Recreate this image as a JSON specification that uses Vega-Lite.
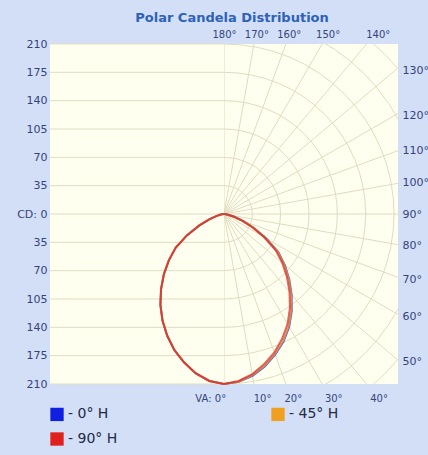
{
  "$schema": "https://vega.github.io/schema/vega-lite/v6.json",
  "width": 348,
  "height": 340,
  "autosize": "none",
  "padding": {"left": 50, "top": 44, "right": 30, "bottom": 71},
  "background": "#d3dff7",
  "title": {"text": "Polar Candela Distribution", "color": "#2e62b8", "fontSize": 13, "font": "DejaVu Sans", "fontWeight": "bold", "anchor": "middle", "offset": 4, "dx": 8},
  "config": {
    "view": {"fill": "#fffff0", "stroke": null},
    "axis": {"labelFont": "DejaVu Sans", "labelFontSize": 11, "labelColor": "#34447a", "labelFlush": false, "labelOverlap": false, "ticks": false, "domain": false, "grid": false}
  },
  "datasets": {
    "hlines": [{"cd": -210, "xa": -215, "xb": 0}, {"cd": -175, "xa": -215, "xb": 0}, {"cd": -140, "xa": -215, "xb": 0}, {"cd": -105, "xa": -215, "xb": 0}, {"cd": -70, "xa": -215, "xb": 0}, {"cd": -35, "xa": -215, "xb": 0}, {"cd": 0, "xa": -215, "xb": 0}, {"cd": 35, "xa": -215, "xb": 0}, {"cd": 70, "xa": -215, "xb": 0}, {"cd": 105, "xa": -215, "xb": 0}, {"cd": 140, "xa": -215, "xb": 0}, {"cd": 175, "xa": -215, "xb": 0}, {"cd": 210, "xa": -215, "xb": 0}],
    "rings": [{"r": 35, "cx": 0, "cy": 0}, {"r": 70, "cx": 0, "cy": 0}, {"r": 105, "cx": 0, "cy": 0}, {"r": 140, "cx": 0, "cy": 0}, {"r": 175, "cx": 0, "cy": 0}, {"r": 210, "cx": 0, "cy": 0}, {"r": 245, "cx": 0, "cy": 0}, {"r": 280, "cx": 0, "cy": 0}],
    "spokes": [
      {"a": 0, "cx": 0, "cy": 0, "ex": 0, "ey": -400}, {"a": 10, "cx": 0, "cy": 0, "ex": 69.46, "ey": -393.92}, {"a": 20, "cx": 0, "cy": 0, "ex": 136.81, "ey": -375.88}, {"a": 30, "cx": 0, "cy": 0, "ex": 200, "ey": -346.41},
      {"a": 40, "cx": 0, "cy": 0, "ex": 257.12, "ey": -306.42}, {"a": 50, "cx": 0, "cy": 0, "ex": 306.42, "ey": -257.12}, {"a": 60, "cx": 0, "cy": 0, "ex": 346.41, "ey": -200},
      {"a": 70, "cx": 0, "cy": 0, "ex": 375.88, "ey": -136.81}, {"a": 80, "cx": 0, "cy": 0, "ex": 393.92, "ey": -69.46}, {"a": 90, "cx": 0, "cy": 0, "ex": 400, "ey": 0},
      {"a": 100, "cx": 0, "cy": 0, "ex": 393.92, "ey": 69.46}, {"a": 110, "cx": 0, "cy": 0, "ex": 375.88, "ey": 136.81}, {"a": 120, "cx": 0, "cy": 0, "ex": 346.41, "ey": 200},
      {"a": 130, "cx": 0, "cy": 0, "ex": 306.42, "ey": 257.12}, {"a": 140, "cx": 0, "cy": 0, "ex": 257.12, "ey": 306.42}, {"a": 150, "cx": 0, "cy": 0, "ex": 200, "ey": 346.41},
      {"a": 160, "cx": 0, "cy": 0, "ex": 136.81, "ey": 375.88}, {"a": 170, "cx": 0, "cy": 0, "ex": 69.46, "ey": 393.92}, {"a": 180, "cx": 0, "cy": 0, "ex": 0, "ey": 400}
    ],
    "curve": [
      {"s": "0° H", "o": 0, "x": 0, "y": 0}, {"s": "0° H", "o": 1, "x": -1, "y": -0.09}, {"s": "0° H", "o": 2, "x": -3.94, "y": -0.69}, {"s": "0° H", "o": 3, "x": -9.66, "y": -2.59}, {"s": "0° H", "o": 4, "x": -18.79, "y": -6.84}, {"s": "0° H", "o": 5, "x": -30.81, "y": -14.37}, {"s": "0° H", "o": 6, "x": -45.9, "y": -26.5}, {"s": "0° H", "o": 7, "x": -59.8, "y": -41.87}, {"s": "0° H", "o": 8, "x": -68.18, "y": -57.21}, {"s": "0° H", "o": 9, "x": -74.25, "y": -74.25}, {"s": "0° H", "o": 10, "x": -77.78, "y": -92.69}, {"s": "0° H", "o": 11, "x": -78.58, "y": -112.22}, {"s": "0° H", "o": 12, "x": -76, "y": -131.64}, {"s": "0° H", "o": 13, "x": -70.15, "y": -150.45}, {"s": "0° H", "o": 14, "x": -61.22, "y": -168.2}, {"s": "0° H", "o": 15, "x": -49.18, "y": -183.53}, {"s": "0° H", "o": 16, "x": -34.73, "y": -196.96}, {"s": "0° H", "o": 17, "x": -18.04, "y": -206.21}, {"s": "0° H", "o": 18, "x": 0, "y": -210},
      {"s": "0° H", "o": 19, "x": 18.13, "y": -207.21}, {"s": "0° H", "o": 20, "x": 35.25, "y": -199.92}, {"s": "0° H", "o": 21, "x": 50.47, "y": -188.36}, {"s": "0° H", "o": 22, "x": 63.27, "y": -173.84}, {"s": "0° H", "o": 23, "x": 73.54, "y": -157.7}, {"s": "0° H", "o": 24, "x": 80.5, "y": -139.43}, {"s": "0° H", "o": 25, "x": 83.74, "y": -119.6}, {"s": "0° H", "o": 26, "x": 83.56, "y": -99.59}, {"s": "0° H", "o": 27, "x": 80.61, "y": -80.61}, {"s": "0° H", "o": 28, "x": 75.07, "y": -62.99}, {"s": "0° H", "o": 29, "x": 67.17, "y": -47.03}, {"s": "0° H", "o": 30, "x": 51.96, "y": -30}, {"s": "0° H", "o": 31, "x": 37.16, "y": -17.33}, {"s": "0° H", "o": 32, "x": 23.49, "y": -8.55}, {"s": "0° H", "o": 33, "x": 12.56, "y": -3.36}, {"s": "0° H", "o": 34, "x": 4.92, "y": -0.87}, {"s": "0° H", "o": 35, "x": 1, "y": -0.09}, {"s": "0° H", "o": 36, "x": 0, "y": 0},
      {"s": "45° H", "o": 0, "x": 0, "y": 0}, {"s": "45° H", "o": 1, "x": -1, "y": -0.09}, {"s": "45° H", "o": 2, "x": -3.94, "y": -0.69}, {"s": "45° H", "o": 3, "x": -9.66, "y": -2.59}, {"s": "45° H", "o": 4, "x": -18.79, "y": -6.84}, {"s": "45° H", "o": 5, "x": -30.81, "y": -14.37}, {"s": "45° H", "o": 6, "x": -45.9, "y": -26.5}, {"s": "45° H", "o": 7, "x": -59.8, "y": -41.87}, {"s": "45° H", "o": 8, "x": -68.18, "y": -57.21}, {"s": "45° H", "o": 9, "x": -74.25, "y": -74.25}, {"s": "45° H", "o": 10, "x": -77.78, "y": -92.69}, {"s": "45° H", "o": 11, "x": -78.58, "y": -112.22}, {"s": "45° H", "o": 12, "x": -76, "y": -131.64}, {"s": "45° H", "o": 13, "x": -70.15, "y": -150.45}, {"s": "45° H", "o": 14, "x": -61.22, "y": -168.2}, {"s": "45° H", "o": 15, "x": -49.18, "y": -183.53}, {"s": "45° H", "o": 16, "x": -34.73, "y": -196.96}, {"s": "45° H", "o": 17, "x": -18.04, "y": -206.21}, {"s": "45° H", "o": 18, "x": 0, "y": -210},
      {"s": "45° H", "o": 19, "x": 18.13, "y": -207.21}, {"s": "45° H", "o": 20, "x": 35.08, "y": -198.93}, {"s": "45° H", "o": 21, "x": 50.21, "y": -187.39}, {"s": "45° H", "o": 22, "x": 62.93, "y": -172.9}, {"s": "45° H", "o": 23, "x": 73.11, "y": -156.79}, {"s": "45° H", "o": 24, "x": 80, "y": -138.56}, {"s": "45° H", "o": 25, "x": 83.17, "y": -118.78}, {"s": "45° H", "o": 26, "x": 82.92, "y": -98.82}, {"s": "45° H", "o": 27, "x": 79.9, "y": -79.9}, {"s": "45° H", "o": 28, "x": 74.31, "y": -62.35}, {"s": "45° H", "o": 29, "x": 66.35, "y": -46.46}, {"s": "45° H", "o": 30, "x": 51.1, "y": -29.5}, {"s": "45° H", "o": 31, "x": 36.25, "y": -16.9}, {"s": "45° H", "o": 32, "x": 22.55, "y": -8.21}, {"s": "45° H", "o": 33, "x": 11.59, "y": -3.11}, {"s": "45° H", "o": 34, "x": 4.92, "y": -0.87}, {"s": "45° H", "o": 35, "x": 1, "y": -0.09}, {"s": "45° H", "o": 36, "x": 0, "y": 0},
      {"s": "90° H", "o": 0, "x": 0, "y": 0}, {"s": "90° H", "o": 1, "x": -1, "y": -0.09}, {"s": "90° H", "o": 2, "x": -3.94, "y": -0.69}, {"s": "90° H", "o": 3, "x": -9.66, "y": -2.59}, {"s": "90° H", "o": 4, "x": -18.79, "y": -6.84}, {"s": "90° H", "o": 5, "x": -30.81, "y": -14.37}, {"s": "90° H", "o": 6, "x": -45.9, "y": -26.5}, {"s": "90° H", "o": 7, "x": -59.8, "y": -41.87}, {"s": "90° H", "o": 8, "x": -68.18, "y": -57.21}, {"s": "90° H", "o": 9, "x": -74.25, "y": -74.25}, {"s": "90° H", "o": 10, "x": -77.78, "y": -92.69}, {"s": "90° H", "o": 11, "x": -78.58, "y": -112.22}, {"s": "90° H", "o": 12, "x": -76, "y": -131.64}, {"s": "90° H", "o": 13, "x": -70.15, "y": -150.45}, {"s": "90° H", "o": 14, "x": -61.22, "y": -168.2}, {"s": "90° H", "o": 15, "x": -49.18, "y": -183.53}, {"s": "90° H", "o": 16, "x": -34.73, "y": -196.96}, {"s": "90° H", "o": 17, "x": -18.04, "y": -206.21}, {"s": "90° H", "o": 18, "x": 0, "y": -210},
      {"s": "90° H", "o": 19, "x": 18.04, "y": -206.21}, {"s": "90° H", "o": 20, "x": 34.9, "y": -197.95}, {"s": "90° H", "o": 21, "x": 49.69, "y": -185.46}, {"s": "90° H", "o": 22, "x": 62.25, "y": -171.02}, {"s": "90° H", "o": 23, "x": 71.85, "y": -154.07}, {"s": "90° H", "o": 24, "x": 78.5, "y": -135.97}, {"s": "90° H", "o": 25, "x": 81.45, "y": -116.32}, {"s": "90° H", "o": 26, "x": 80.99, "y": -96.52}, {"s": "90° H", "o": 27, "x": 77.78, "y": -77.78}, {"s": "90° H", "o": 28, "x": 72.01, "y": -60.42}, {"s": "90° H", "o": 29, "x": 63.89, "y": -44.74}, {"s": "90° H", "o": 30, "x": 49.36, "y": -28.5}, {"s": "90° H", "o": 31, "x": 34.44, "y": -16.06}, {"s": "90° H", "o": 32, "x": 21.61, "y": -7.87}, {"s": "90° H", "o": 33, "x": 11.59, "y": -3.11}, {"s": "90° H", "o": 34, "x": 4.92, "y": -0.87}, {"s": "90° H", "o": 35, "x": 1, "y": -0.09}, {"s": "90° H", "o": 36, "x": 0, "y": 0}
    ]
  },
  "resolve": {"axis": {"x": "independent", "y": "independent"}},
  "layer": [
    {
      "data": {"name": "rings"},
      "mark": {"type": "point", "shape": "circle", "filled": false, "color": "#e0dcc0", "strokeWidth": 1, "opacity": 1, "clip": true},
      "encoding": {
        "x": {"field": "cx", "type": "quantitative", "scale": {"domain": [-215, 215], "nice": false, "zero": false}, "axis": null},
        "y": {"field": "cy", "type": "quantitative", "scale": {"domain": [-210, 210], "nice": false, "zero": false}, "axis": null},
        "size": {"field": "r", "type": "quantitative", "legend": null, "scale": {"type": "pow", "exponent": 2, "domain": [0, 210], "range": [0, 115600], "zero": true}}
      }
    },
    {
      "data": {"name": "spokes"},
      "mark": {"type": "rule", "color": "#e0dcc0", "strokeWidth": 1, "clip": true},
      "encoding": {
        "x": {"field": "cx", "type": "quantitative", "scale": {"domain": [-215, 215], "nice": false, "zero": false},
          "axis": {"orient": "top", "title": null, "values": [0, 40, 80, 128, 190], "labelFontSize": 10, "labelPadding": 5, "labelExpr": "datum.value < 20 ? '180°' : datum.value < 60 ? '170°' : datum.value < 100 ? '160°' : datum.value < 160 ? '150°' : '140°'"}},
        "y": {"field": "cy", "type": "quantitative", "scale": {"domain": [-210, 210], "nice": false, "zero": false},
          "axis": {"orient": "right", "title": null, "values": [176.7, 121.1, 78.4, 38.3, 0, -39.5, -80.3, -126.3, -182.6], "labelPadding": 4, "labelExpr": "datum.value > 150 ? '130°' : datum.value > 100 ? '120°' : datum.value > 60 ? '110°' : datum.value > 20 ? '100°' : datum.value > -20 ? '90°' : datum.value > -60 ? '80°' : datum.value > -100 ? '70°' : datum.value > -150 ? '60°' : '50°'"}},
        "x2": {"field": "ex"},
        "y2": {"field": "ey"}
      }
    },
    {
      "data": {"values": [{"x0": -215, "x1": 0, "y0": -210, "y1": 210}]},
      "mark": {"type": "rect", "color": "#fffff0"},
      "encoding": {
        "x": {"field": "x0", "type": "quantitative", "scale": {"domain": [-215, 215], "nice": false, "zero": false}, "axis": null},
        "x2": {"field": "x1"},
        "y": {"field": "y0", "type": "quantitative", "scale": {"domain": [-210, 210], "nice": false, "zero": false}, "axis": null},
        "y2": {"field": "y1"}
      }
    },
    {
      "data": {"name": "hlines"},
      "mark": {"type": "rule", "color": "#e0dcc0", "strokeWidth": 1},
      "encoding": {
        "y": {"field": "cd", "type": "quantitative", "scale": {"domain": [-210, 210], "nice": false, "zero": false},
          "axis": {"orient": "left", "title": null, "values": [-210, -175, -140, -105, -70, -35, 0, 35, 70, 105, 140, 175, 210], "labelExpr": "datum.value == 0 ? 'CD: 0' : format(abs(datum.value), 'd')", "labelPadding": 3}},
        "x": {"field": "xa", "type": "quantitative", "scale": {"domain": [-215, 215], "nice": false, "zero": false},
          "axis": {"orient": "bottom", "title": null, "values": [-17, 47, 85, 135, 191], "labelFontSize": 10, "labelPadding": 9, "labelExpr": "datum.value < 0 ? 'VA: 0°' : datum.value < 60 ? '10°' : datum.value < 100 ? '20°' : datum.value < 160 ? '30°' : '40°'"}},
        "x2": {"field": "xb"}
      }
    },
    {
      "data": {"name": "curve"},
      "mark": {"type": "line", "strokeWidth": 2, "opacity": 0.7},
      "encoding": {
        "x": {"field": "x", "type": "quantitative", "scale": {"domain": [-215, 215], "nice": false, "zero": false}, "axis": null},
        "y": {"field": "y", "type": "quantitative", "scale": {"domain": [-210, 210], "nice": false, "zero": false}, "axis": null},
        "order": {"field": "o", "type": "quantitative"},
        "color": {"field": "s", "type": "nominal",
          "scale": {"domain": ["0° H", "45° H", "90° H"], "range": ["#1020e0", "#f0a020", "#e0201c"]},
          "legend": {"title": null, "orient": "bottom", "direction": "horizontal", "columns": 2, "columnPadding": 142, "rowPadding": -21, "offset": 4,
            "symbolType": "square", "symbolSize": 40, "symbolStrokeWidth": 7, "symbolOpacity": 1, "labelFontSize": 14, "labelFont": "DejaVu Sans", "labelColor": "#222a44",
            "labelExpr": "'- ' + datum.label"}}
      }
    }
  ]
}
